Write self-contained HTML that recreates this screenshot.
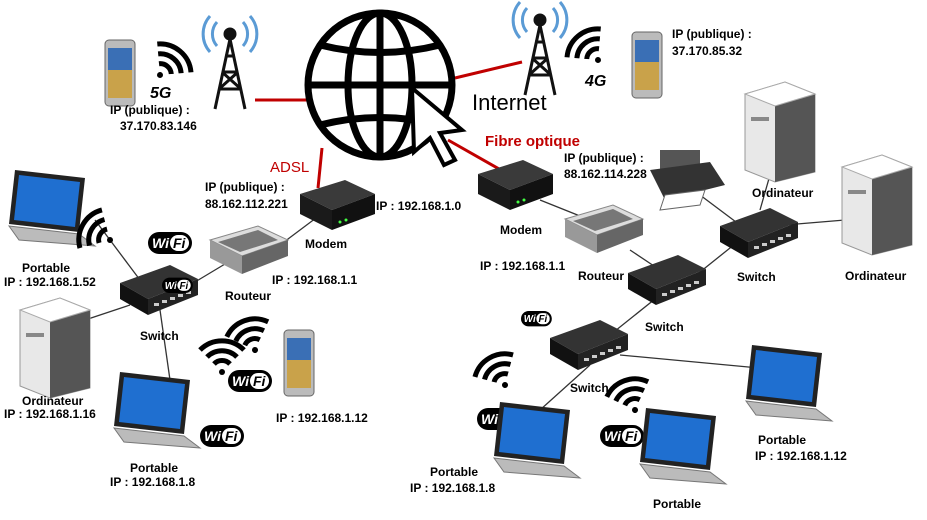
<!DOCTYPE html>
<html><head><meta charset="utf-8"><style>
html,body{margin:0;padding:0;background:#fff;width:927px;height:520px;overflow:hidden}
svg{display:block}
text{font-family:"Liberation Sans",Arial,sans-serif;font-weight:bold;font-size:12px;fill:#000}
</style></head><body>
<svg width="927" height="520" viewBox="0 0 927 520" xmlns="http://www.w3.org/2000/svg">
<defs>
<g id="laptop">
 <polygon points="10,0 80,8 74,62 4,54" fill="#222"/>
 <polygon points="14,5 75,12 70,57 9,50" fill="#1f6fd0"/>
 <polygon points="4,56 74,64 90,76 14,70" fill="#bbb" stroke="#777" stroke-width="1"/>
</g>
<g id="server">
 <polygon points="0,12 40,0 70,12 70,90 30,100 0,88" fill="#e8e8e8" stroke="#999"/>
 <polygon points="30,24 70,12 70,90 30,100" fill="#555"/>
 <polygon points="0,12 40,0 70,12 30,24" fill="#fff" stroke="#aaa"/>
 <rect x="6" y="35" width="18" height="4" fill="#888"/>
</g>
<g id="switch">
 <polygon points="0,18 50,0 78,14 28,34" fill="#333"/>
 <polygon points="0,18 28,34 28,50 0,34" fill="#111"/>
 <polygon points="28,34 78,14 78,30 28,50" fill="#222"/>
 <g fill="#ccc"><rect x="34" y="38" width="5" height="3"/><rect x="42" y="35" width="5" height="3"/><rect x="50" y="32" width="5" height="3"/><rect x="58" y="29" width="5" height="3"/><rect x="66" y="26" width="5" height="3"/></g>
</g>
<g id="modem">
 <polygon points="0,14 45,0 75,14 32,30" fill="#3a3a3a"/>
 <polygon points="0,14 32,30 32,50 0,34" fill="#1a1a1a"/>
 <polygon points="32,30 75,14 75,34 32,50" fill="#111"/>
 <circle cx="40" cy="42" r="1.5" fill="#4f4"/><circle cx="46" cy="40" r="1.5" fill="#4f4"/>
</g>
<g id="router">
 <polygon points="0,14 48,0 78,14 32,30" fill="#ddd" stroke="#888"/>
 <polygon points="0,14 32,30 32,48 0,32" fill="#999"/>
 <polygon points="32,30 78,14 78,30 32,48" fill="#666"/>
 <polygon points="8,16 48,4 68,14 30,26" fill="#777"/>
</g>
<g id="phone">
 <rect x="0" y="0" width="30" height="66" rx="4" fill="#bbb" stroke="#666"/>
 <rect x="3" y="8" width="24" height="50" fill="#3a6fb5"/>
 <rect x="3" y="30" width="24" height="28" fill="#c9a24a"/>
</g>
<g id="wifi">
 <rect x="0" y="0" width="44" height="22" rx="11" fill="#000"/>
 <text x="4" y="16" style="fill:#fff;font-size:14px;font-style:italic">Wi</text>
 <rect x="22" y="3" width="19" height="16" rx="8" fill="#fff"/>
 <text x="25" y="16" style="font-size:14px;font-style:italic">Fi</text>
</g>
<g id="waves" fill="none" stroke="#000" stroke-width="5">
 <circle cx="0" cy="0" r="3" fill="#000" stroke="none"/>
 <path d="M-8,-8 A11,11 0 0 1 8,-8"/>
 <path d="M-15,-15 A21,21 0 0 1 15,-15"/>
 <path d="M-22,-22 A31,31 0 0 1 22,-22"/>
</g>
<g id="tower" stroke="#111" stroke-width="3" fill="none">
 <path d="M10,95 L25,25 L40,95 M14,75 L36,75 M17,58 L33,58 M20,42 L30,42 M14,75 L33,58 M36,75 L17,58"/>
 <circle cx="25" cy="20" r="5" fill="#111"/>
 <path d="M12,8 A18,18 0 0 0 12,32 M38,8 A18,18 0 0 1 38,32 M5,2 A27,27 0 0 0 5,38 M45,2 A27,27 0 0 1 45,38" stroke="#5b9bd5" stroke-width="3"/>
</g>
</defs>

<!-- connection lines -->
<g stroke="#333" stroke-width="1.3" fill="none">
 <path d="M95,220 L140,280"/><path d="M85,320 L130,305"/><path d="M160,310 L170,380"/>
 <path d="M190,285 L240,255"/><path d="M280,245 L320,215"/>
 <path d="M540,200 L590,220"/><path d="M630,250 L660,270"/><path d="M690,280 L740,240"/>
 <path d="M700,195 L740,225"/><path d="M785,225 L845,220"/><path d="M770,175 L760,210"/>
 <path d="M660,295 L610,335"/><path d="M620,355 L780,370"/><path d="M590,365 L540,410"/>
</g>
<!-- red lines -->
<g stroke="#c00000" stroke-width="3">
 <line x1="255" y1="100" x2="312" y2="100"/>
 <line x1="455" y1="78" x2="522" y2="62"/>
 <line x1="322" y1="148" x2="318" y2="188"/>
 <line x1="448" y1="140" x2="515" y2="178"/>
</g>

<!-- globe -->
<g fill="none" stroke="#000" stroke-width="7">
 <circle cx="380" cy="85" r="72"/>
 <ellipse cx="380" cy="85" rx="32" ry="72"/>
 <line x1="380" y1="13" x2="380" y2="157"/>
 <line x1="308" y1="85" x2="452" y2="85"/>
 <path d="M320,45 Q380,60 440,45"/>
 <path d="M320,125 Q380,110 440,125"/>
</g>
<polygon points="412,88 462,130 440,133 455,160 444,165 430,138 414,152" fill="#fff" stroke="#000" stroke-width="4"/>
<text x="472" y="110" style="font-weight:normal;font-size:22px">Internet</text>
<text x="270" y="172" style="fill:#c00000;font-size:15px;font-weight:normal">ADSL</text>
<text x="485" y="146" style="fill:#c00000;font-size:15px">Fibre optique</text>

<!-- top devices -->
<use href="#phone" x="105" y="40"/>
<use href="#tower" x="205" y="14"/>
<g transform="translate(160,75) rotate(40)"><use href="#waves"/></g>
<text x="150" y="98" style="font-size:16px;font-style:italic">5G</text>
<use href="#tower" x="515" y="0"/>
<g transform="translate(598,60) rotate(-40)"><use href="#waves"/></g>
<text x="585" y="86" style="font-size:16px;font-style:italic">4G</text>
<use href="#phone" x="632" y="32"/>

<!-- left network -->
<use href="#laptop" x="5" y="170"/>
<g transform="translate(110,240) rotate(-60)"><use href="#waves"/></g>
<use href="#wifi" x="148" y="232"/>
<use href="#modem" x="300" y="180"/>
<use href="#router" x="210" y="226"/>
<use href="#switch" x="120" y="265"/>
<use href="#wifi" x="180" y="308" transform="translate(36,62) scale(0.7)"/>
<use href="#server" x="20" y="298"/>
<g transform="translate(222,372)"><use href="#waves"/></g>
<g transform="translate(255,350) rotate(-20)"><use href="#waves"/></g>
<use href="#wifi" x="228" y="370"/>
<use href="#phone" x="284" y="330"/>
<use href="#laptop" x="110" y="372"/>
<use href="#wifi" x="200" y="425"/>

<!-- right network -->
<use href="#modem" x="478" y="160"/>
<use href="#router" x="565" y="205"/>
<use href="#switch" x="720" y="208"/>
<use href="#switch" x="628" y="255"/>
<use href="#switch" x="550" y="320"/>
<g>
 <rect x="660" y="150" width="40" height="25" fill="#555"/>
 <polygon points="650,170 710,162 725,185 665,200" fill="#333"/>
 <polygon points="665,195 705,190 700,205 660,210" fill="#fff" stroke="#666"/>
</g>
<use href="#server" x="745" y="82"/>
<use href="#server" x="842" y="155"/>
<use href="#wifi" x="520" y="310" transform="translate(157,94) scale(0.7)"/>
<g transform="translate(505,385) rotate(-30)"><use href="#waves"/></g>
<use href="#wifi" x="477" y="408"/>
<use href="#laptop" x="490" y="402"/>
<g transform="translate(635,410) rotate(-20)"><use href="#waves"/></g>
<use href="#wifi" x="600" y="425"/>
<use href="#laptop" x="636" y="408"/>
<use href="#laptop" x="742" y="345"/>

<!-- labels -->
<text x="110" y="114">IP (publique) :</text><text x="120" y="130">37.170.83.146</text>
<text x="672" y="38">IP (publique) :</text><text x="672" y="55">37.170.85.32</text>
<text x="564" y="162">IP (publique) :</text><text x="564" y="178">88.162.114.228</text>
<text x="205" y="191">IP (publique) :</text><text x="205" y="208">88.162.112.221</text>
<text x="376" y="210">IP : 192.168.1.0</text>
<text x="305" y="248">Modem</text>
<text x="272" y="284">IP : 192.168.1.1</text>
<text x="225" y="300">Routeur</text>
<text x="22" y="272">Portable</text><text x="4" y="286">IP : 192.168.1.52</text>
<text x="140" y="340">Switch</text>
<text x="22" y="405">Ordinateur</text><text x="4" y="418">IP : 192.168.1.16</text>
<text x="276" y="422">IP : 192.168.1.12</text>
<text x="130" y="472">Portable</text><text x="110" y="486">IP : 192.168.1.8</text>
<text x="500" y="234">Modem</text>
<text x="480" y="270">IP : 192.168.1.1</text>
<text x="578" y="280">Routeur</text>
<text x="645" y="331">Switch</text>
<text x="570" y="392">Switch</text>
<text x="737" y="281">Switch</text>
<text x="752" y="197">Ordinateur</text>
<text x="845" y="280">Ordinateur</text>
<text x="758" y="444">Portable</text><text x="755" y="460">IP : 192.168.1.12</text>
<text x="430" y="476">Portable</text><text x="410" y="492">IP : 192.168.1.8</text>
<text x="653" y="508">Portable</text>
</svg>
</body></html>
